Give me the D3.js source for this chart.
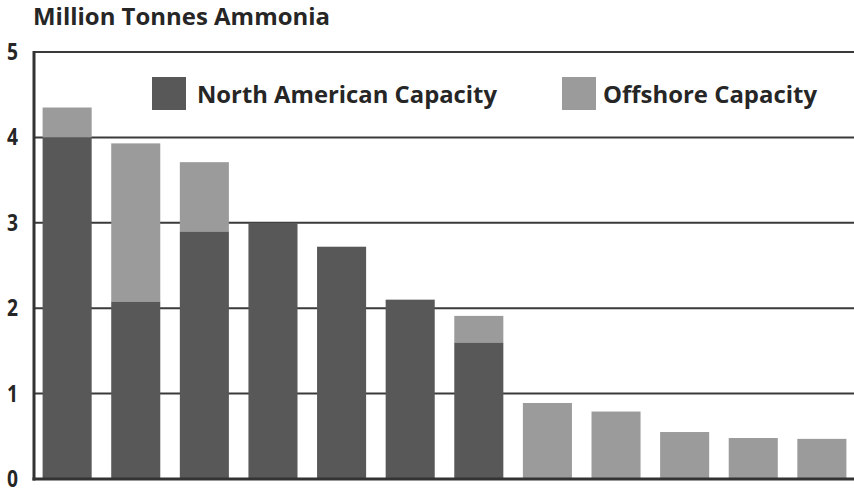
<!DOCTYPE html>
<html><head><meta charset="utf-8">
<script src="https://cdn.jsdelivr.net/npm/d3@7"></script>
<style>body{margin:0;background:#fff;} svg{display:block;}</style>
</head><body>
<svg id="c" width="854" height="489"></svg>
<script>
const categories = ["A","B","C","D","E","F","G","H","I","J","K","L"];
const northAmerican = [4.0, 2.08, 2.9, 3.0, 2.72, 2.1, 1.6, 0, 0, 0, 0, 0];
const offshore = [0.35, 1.85, 0.81, 0, 0, 0, 0.31, 0.89, 0.79, 0.55, 0.48, 0.47];
const yTicks = [0, 1, 2, 3, 4, 5];
const seriesNames = ["North American Capacity", "Offshore Capacity"];
const colors = ["#585858", "#9b9b9b"];
const titleText = "Million Tonnes Ammonia";

(function () {
const svg = d3.select("#c");
const mLeft = 34, mRight = 856, mTop = 52, mBottom = 479;
const x = d3.scaleBand().domain(categories).range([mLeft - 1, mRight]).paddingInner(0.285).paddingOuter(0.14);
const y = d3.scaleLinear().domain([0, 5]).range([mBottom, mTop]);
const font = "'Open Sans', sans-serif";
const ink = "#262626";

// gridlines
svg.append("g").selectAll("line").data(yTicks.filter(d => d > 0)).join("line")
  .attr("x1", mLeft).attr("x2", 854).attr("y1", d => y(d)).attr("y2", d => y(d))
  .attr("stroke", "#3a3a3a").attr("stroke-width", 2);

// stacked bars
const data = categories.map((c, i) => ({cat: c, na: northAmerican[i], off: offshore[i]}));
const stack = d3.stack().keys(["na", "off"])(data);
svg.append("g").selectAll("g").data(stack).join("g")
  .attr("fill", (d, i) => colors[i])
  .selectAll("rect").data(d => d.filter(p => p[1] - p[0] > 0)).join("rect")
  .attr("x", d => x(d.data.cat)).attr("width", x.bandwidth())
  .attr("y", d => y(d[1])).attr("height", d => y(d[0]) - y(d[1]));

// axes lines
svg.append("line").attr("x1", mLeft).attr("x2", mLeft).attr("y1", mTop - 1).attr("y2", mBottom + 1.5)
  .attr("stroke", "#333").attr("stroke-width", 3);
svg.append("line").attr("x1", mLeft - 1.5).attr("x2", 854).attr("y1", mBottom).attr("y2", mBottom)
  .attr("stroke", "#333").attr("stroke-width", 3);

// y tick labels
svg.append("g").selectAll("text").data(yTicks).join("text")
  .attr("x", 7).attr("y", d => Math.min(y(d) + 8, 486.5))
  .attr("font-family", font).attr("font-weight", 700)
  .attr("font-size", 23).attr("fill", ink).text(d => d)
  .attr("textLength", 11).attr("lengthAdjust", "spacingAndGlyphs");

// title
svg.append("text").attr("x", 33).attr("y", 25).attr("font-family", font).attr("font-weight", 700)
  .attr("font-size", 23).attr("fill", ink).text(titleText)
  .attr("textLength", 297).attr("lengthAdjust", "spacingAndGlyphs");

// legend
const legendPos = [{sx: 152, tx: 197, tw: 300}, {sx: 562, tx: 603, tw: 214}];
const lg = svg.append("g").selectAll("g").data(seriesNames).join("g");
lg.append("rect").attr("x", (d, i) => legendPos[i].sx).attr("y", 77).attr("width", 34).attr("height", 33)
  .attr("fill", (d, i) => colors[i]);
lg.append("text").attr("x", (d, i) => legendPos[i].tx).attr("y", 103)
  .attr("font-family", font).attr("font-weight", 700).attr("font-size", 24).attr("fill", ink)
  .text(d => d).attr("textLength", (d, i) => legendPos[i].tw).attr("lengthAdjust", "spacingAndGlyphs");
})();
</script>
</body></html>
